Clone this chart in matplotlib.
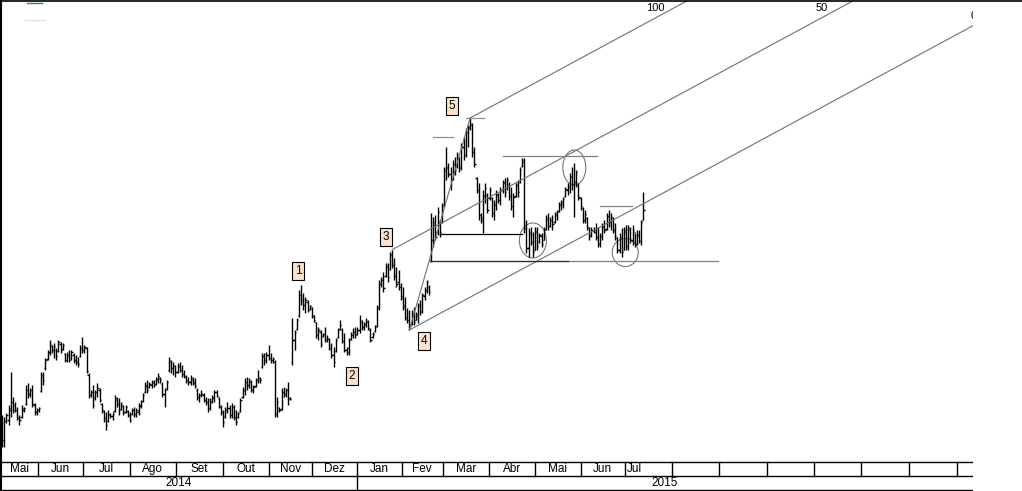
import matplotlib
matplotlib.use("Agg")
import matplotlib.pyplot as plt
from matplotlib.collections import LineCollection
from matplotlib.lines import Line2D
from matplotlib.patches import Ellipse
import numpy as np

# daily OHLC bars, May 2014 - Jul 2015 (arbitrary price units)
highs = [
    8.5, 8.3, 8.7, 9.5, 12.8, 10.3, 9.8, 9.3, 8.5, 9.5, 9.3, 11.5, 11.7, 11.2, 11.5, 9.7, 9.2, 9.3, 12.8, 12.8,
    14.2, 15.0, 16.0, 15.5, 15.7, 15.2, 16.0, 15.8, 15.7, 14.7, 14.8, 15.0, 15.0, 14.7, 14.5, 14.3, 15.5, 16.3, 15.5, 15.3,
    12.7, 11.0, 11.5, 11.0, 11.7, 11.2, 9.7, 9.0, 8.8, 9.0, 8.7, 8.8, 10.5, 10.3, 10.2, 9.8, 9.5, 9.5, 9.0, 8.8,
    9.2, 9.3, 9.2, 9.7, 10.0, 10.7, 11.8, 12.0, 11.8, 12.0, 12.0, 12.3, 12.7, 12.3, 11.8, 11.2, 12.0, 14.3, 14.0, 13.8,
    13.5, 13.7, 13.8, 13.5, 13.0, 12.5, 12.3, 12.5, 12.3, 12.2, 11.2, 10.7, 11.0, 10.7, 10.3, 10.2, 10.2, 10.5, 11.0, 11.0,
    10.3, 9.5, 9.0, 9.3, 9.8, 9.5, 9.7, 9.5, 9.0, 8.8, 10.2, 11.3, 12.2, 12.3, 12.2, 12.0, 11.5, 12.2, 13.0, 12.3,
    14.7, 14.7, 14.8, 15.5, 14.7, 14.3, 14.0, 10.3, 9.3, 11.2, 11.3, 11.2, 11.8, 10.3,
    18.2, 17.0, 18.2, 21.0, 21.5, 20.7, 20.3, 20.0, 19.5, 19.3, 18.5, 17.8, 17.3, 17.0, 16.7, 17.3, 16.5, 16.2, 15.7, 15.3,
    16.2, 17.2, 18.0, 17.2, 16.7, 15.3, 16.2, 16.8, 17.2, 17.3, 17.3, 18.5, 18.0, 17.8, 18.2, 18.0, 17.2, 16.8, 17.5, 19.5,
    22.0, 22.3, 22.8, 23.7, 23.7, 24.8, 25.0, 24.2, 23.3, 23.0,
    21.7, 21.3, 20.3, 19.2, 19.0, 19.0, 19.3, 18.8, 19.7, 20.0, 20.7, 21.3, 22.0, 21.5,
    28.7, 28.3, 28.5, 29.3, 28.0, 29.7, 33.3, 35.3, 33.7, 33.3, 34.0, 34.3, 34.8, 34.3, 35.7, 36.3, 37.2, 37.5, 38.2, 37.7,
    35.3, 32.3, 31.7, 28.7, 31.0, 31.7, 30.7, 31.3, 30.3, 30.0, 31.0, 30.7, 31.3, 32.0, 32.2, 32.3, 31.8, 31.3, 30.7, 31.7,
    32.0, 33.3, 34.2, 34.2, 28.0, 27.2, 27.3, 26.8, 27.3, 27.3, 26.7, 26.7, 27.3, 28.5, 28.7, 28.3, 28.5, 28.8, 29.0, 29.8,
    30.0, 30.3, 31.3, 31.7, 32.7, 33.3, 33.7, 33.0, 31.7, 30.3, 29.3, 29.0, 28.3, 27.3, 27.3, 27.3, 27.7, 27.3, 26.7, 27.7,
    28.0, 28.7, 29.0, 28.7, 28.3, 27.7, 26.3,
    26.7, 27.2, 27.3, 27.5, 27.5, 27.3, 27.5, 26.7, 27.0, 27.0, 28.0, 30.8,
]
lows = [
    5.3, 5.3, 7.7, 7.5, 8.3, 8.7, 8.8, 8.0, 7.5, 8.2, 8.8, 9.5, 10.2, 10.3, 9.3, 8.5, 8.5, 8.8, 10.8, 11.5,
    13.0, 14.0, 14.5, 14.7, 14.2, 14.0, 14.8, 14.7, 15.0, 13.8, 13.8, 13.8, 14.0, 13.7, 13.5, 13.3, 14.3, 14.7, 14.7, 12.7,
    10.2, 10.3, 9.2, 10.0, 10.3, 9.8, 8.7, 7.8, 7.0, 7.8, 8.2, 8.0, 8.8, 9.3, 8.5, 9.0, 8.5, 8.7, 8.3, 7.8,
    8.5, 8.3, 8.3, 8.5, 9.2, 9.8, 10.7, 10.7, 11.2, 11.2, 11.3, 11.5, 11.7, 11.7, 10.3, 9.3, 11.0, 12.8, 12.7, 12.5,
    12.3, 12.7, 12.8, 12.3, 12.2, 11.7, 11.5, 11.5, 11.5, 11.2, 10.0, 9.8, 10.3, 9.8, 9.5, 8.8, 9.0, 9.7, 9.8, 10.3,
    9.2, 8.5, 7.3, 8.2, 8.7, 8.2, 8.2, 8.0, 7.5, 8.2, 8.8, 10.2, 10.5, 11.0, 11.2, 10.8, 10.7, 11.3, 11.7, 11.7,
    13.2, 13.5, 13.7, 14.0, 13.7, 13.7, 8.3, 8.3, 8.8, 9.0, 10.3, 10.3, 9.5, 10.0,
    13.5, 15.0, 17.0, 18.3, 19.5, 19.0, 18.7, 18.8, 19.0, 18.2, 17.8, 16.2, 16.0, 15.3, 16.3, 15.8, 15.8, 15.0, 14.2, 13.3,
    14.8, 16.2, 17.0, 15.7, 14.8, 14.5, 14.5, 16.0, 16.2, 16.2, 16.5, 16.7, 17.0, 17.0, 17.3, 17.0, 15.8, 16.2, 16.8, 17.3,
    19.0, 21.3, 20.8, 22.3, 21.8, 23.0, 23.2, 22.0, 21.3, 21.0,
    20.0, 19.0, 18.0, 17.7, 17.0, 17.5, 17.5, 18.0, 17.7, 18.5, 18.7, 20.0, 20.7, 20.5,
    23.8, 25.3, 26.0, 26.5, 26.3, 27.7, 29.3, 32.0, 32.3, 31.0, 32.0, 32.5, 33.2, 32.8, 33.0, 34.0, 34.3, 35.3, 37.0, 34.3,
    33.3, 30.7, 28.0, 27.7, 26.7, 29.7, 28.7, 30.0, 28.3, 28.0, 29.0, 29.7, 29.5, 30.7, 30.3, 31.0, 30.0, 29.0, 28.3, 30.3,
    30.3, 31.7, 33.3, 26.7, 24.7, 24.3, 25.5, 24.3, 25.0, 25.0, 25.7, 25.3, 26.0, 27.0, 27.0, 27.3, 27.0, 27.7, 28.0, 28.8,
    29.0, 29.2, 30.3, 30.5, 30.7, 31.0, 28.3, 31.3, 30.0, 29.0, 27.7, 27.7, 27.0, 26.0, 26.3, 26.7, 26.0, 25.3, 25.3, 26.0,
    26.7, 27.0, 27.3, 27.0, 26.7, 26.0, 24.7,
    24.7, 24.3, 25.0, 25.0, 25.0, 25.7, 25.5, 25.3, 25.5, 25.7, 25.5, 28.0,
]
opens = [
    8.0, 6.0, 7.9, 8.0, 9.0, 9.8, 9.5, 9.0, 8.2, 8.3, 9.0, 9.6, 11.0, 10.6, 11.0, 9.5, 8.8, 9.0, 10.9, 12.3,
    13.2, 14.1, 14.8, 15.4, 15.0, 15.0, 14.9, 15.6, 15.1, 14.6, 14.0, 14.5, 14.2, 14.5, 14.0, 13.8, 14.4, 15.2, 15.0, 15.2,
    12.5, 10.5, 10.8, 10.2, 10.8, 11.0, 9.6, 8.9, 8.2, 7.9, 8.5, 8.4, 8.9, 10.0, 9.6, 9.1, 9.4, 8.8, 8.9, 8.5,
    8.6, 9.0, 8.6, 8.8, 9.4, 9.9, 10.8, 11.4, 11.3, 11.5, 11.8, 11.6, 12.0, 12.2, 11.6, 10.6, 11.2, 13.0, 13.8, 13.2,
    13.4, 12.8, 13.4, 13.0, 12.6, 12.3, 12.0, 11.8, 12.0, 11.8, 11.0, 10.3, 10.5, 10.5, 10.0, 9.8, 9.2, 9.8, 10.2, 10.8,
    10.2, 9.3, 8.8, 8.3, 9.0, 9.2, 8.5, 9.3, 8.3, 8.3, 8.9, 10.3, 11.0, 11.8, 11.5, 11.8, 11.0, 11.4, 12.0, 12.2,
    13.3, 14.4, 14.0, 14.5, 14.2, 14.0, 13.8, 8.6, 9.2, 9.1, 10.8, 10.6, 11.0, 10.2,
    13.8, 16.0, 17.1, 18.4, 20.2, 20.0, 19.5, 19.8, 19.1, 19.2, 18.4, 17.8, 16.5, 16.8, 16.4, 16.6, 16.0, 16.1, 15.2, 14.5,
    14.9, 16.3, 17.1, 17.0, 15.9, 15.0, 14.8, 16.1, 16.5, 16.8, 16.6, 17.0, 17.8, 17.3, 17.6, 17.8, 17.0, 16.3, 16.9, 17.4,
    19.3, 21.6, 22.0, 22.4, 23.3, 23.1, 24.6, 23.5, 22.4, 21.8,
    21.3, 20.4, 19.5, 18.3, 18.0, 17.6, 18.5, 18.0, 18.4, 19.4, 18.9, 20.4, 21.0, 21.3,
    24.0, 26.0, 27.5, 26.8, 27.8, 27.8, 29.5, 33.0, 33.3, 32.6, 32.2, 33.6, 33.4, 34.2, 33.3, 35.3, 34.5, 36.8, 37.3, 37.5,
    34.8, 32.2, 31.0, 28.5, 28.0, 30.4, 30.5, 30.2, 30.2, 28.7, 29.5, 30.5, 30.0, 31.0, 31.7, 31.2, 31.6, 30.4, 29.4, 30.4,
    31.5, 31.8, 33.4, 33.8, 27.2, 25.2, 26.6, 25.8, 25.0, 26.8, 25.8, 26.4, 26.0, 27.1, 28.0, 27.4, 28.0, 27.8, 28.5, 28.9,
    29.5, 29.6, 30.4, 31.0, 31.2, 32.3, 31.6, 31.8, 31.5, 30.2, 29.2, 28.0, 28.2, 27.2, 26.5, 27.0, 26.8, 26.3, 25.6, 26.4,
    27.3, 27.1, 28.4, 27.8, 28.2, 27.0, 26.2,
    25.0, 26.2, 25.0, 26.8, 25.4, 27.0, 26.0, 26.8, 25.6, 26.5, 25.9, 28.0,
]
closes = [
    6.0, 7.9, 8.5, 9.2, 9.8, 9.0, 9.0, 8.2, 8.0, 9.2, 9.2, 11.0, 10.6, 11.0, 9.6, 8.8, 9.0, 9.2, 12.5, 12.0,
    14.0, 14.8, 15.6, 15.0, 15.4, 14.4, 15.8, 15.0, 15.5, 14.0, 14.5, 14.0, 14.8, 14.0, 13.8, 13.6, 15.2, 15.0, 15.3, 12.9,
    10.5, 10.8, 9.5, 10.8, 11.2, 10.0, 9.0, 8.2, 7.5, 8.6, 8.4, 8.6, 10.2, 9.6, 9.0, 9.6, 8.8, 9.3, 8.5, 8.0,
    9.0, 8.6, 9.0, 9.5, 9.9, 10.5, 11.5, 11.0, 11.6, 11.8, 11.5, 12.1, 12.4, 12.0, 10.6, 11.0, 11.8, 14.0, 13.2, 13.5,
    12.8, 13.4, 13.0, 12.6, 12.4, 12.0, 11.8, 12.2, 11.7, 11.4, 10.3, 10.5, 10.6, 10.0, 9.8, 9.2, 9.9, 10.3, 10.8, 10.4,
    9.4, 8.8, 7.8, 9.0, 9.2, 8.5, 9.3, 8.3, 7.8, 8.7, 10.0, 11.0, 11.8, 11.5, 11.9, 11.0, 11.3, 12.0, 12.2, 12.0,
    14.4, 14.0, 14.5, 14.2, 14.0, 14.1, 8.6, 9.8, 9.0, 10.8, 10.6, 11.0, 10.2, 10.1,
    16.0, 16.8, 18.0, 20.5, 20.0, 19.5, 20.0, 19.0, 19.4, 18.5, 18.0, 16.5, 17.0, 15.6, 16.6, 16.0, 16.2, 15.2, 14.5, 13.8,
    16.0, 17.0, 17.5, 15.9, 15.0, 15.2, 16.0, 16.5, 16.8, 16.5, 17.0, 18.0, 17.3, 17.6, 17.9, 17.2, 16.0, 16.6, 17.3, 19.2,
    21.6, 22.0, 21.2, 23.4, 22.3, 24.5, 23.5, 22.4, 21.6, 21.3,
    20.2, 19.3, 18.2, 18.0, 17.4, 18.7, 17.8, 18.6, 19.5, 18.8, 20.5, 21.0, 21.8, 20.8,
    26.0, 27.8, 26.3, 28.8, 26.8, 29.4, 33.0, 33.2, 32.6, 32.0, 33.6, 33.0, 34.5, 33.2, 35.3, 34.5, 36.8, 37.2, 37.6, 34.8,
    33.6, 31.0, 28.5, 28.2, 30.5, 31.2, 29.0, 31.0, 28.7, 29.6, 30.6, 30.0, 31.0, 31.8, 30.8, 32.0, 30.4, 29.4, 30.3, 31.5,
    30.8, 33.0, 34.0, 27.2, 25.2, 26.8, 25.8, 24.8, 26.9, 25.4, 26.5, 25.6, 27.0, 28.2, 27.4, 28.0, 27.6, 28.6, 28.8, 29.6,
    29.8, 30.1, 31.1, 31.4, 32.4, 31.6, 31.8, 32.8, 30.3, 29.4, 28.0, 28.6, 27.3, 26.4, 27.0, 26.8, 26.3, 25.6, 26.4, 27.4,
    27.0, 28.4, 27.8, 28.3, 27.0, 26.4, 25.0,
    26.3, 24.8, 27.0, 25.4, 27.2, 26.0, 27.0, 25.6, 26.5, 25.9, 27.8, 29.0,
]

# time axis: first bar index of each month (trading days)
month_labels = ["Mai", "Jun", "Jul", "Ago", "Set", "Out", "Nov", "Dez",
                "Jan", "Fev", "Mar", "Abr", "Mai", "Jun", "Jul",
                "", "", "", "", "", "", ""]
month_starts = [-0.5, 16.5, 37.4, 59.1, 80.2, 102.0, 123.2, 142.9,
                163.8, 184.4, 203.4, 224.7, 246.0, 267.0, 287.5,
                309.0, 331.0, 353.2, 374.9, 396.5, 418.7, 440.6]
year_labels = ["2014", "2015"]
year_starts = [-0.5, 163.8]

# Elliott wave pivots (bar index) and their labels
wave_labels = ["1", "2", "3", "4", "5"]
wave_bars = [138, 153, 180, 188, 216]
wave_text = [(136.6, 22.9), (161.5, 12.4), (177.2, 26.3), (194.7, 15.9), (207.7, 39.4)]

# fibonacci channel 0 / 50 / 100 (slope in price per bar)
fib_labels = ["100", "50", "0"]
channel_slope = 0.117

# support / resistance levels: price, from bar, to bar, colour
level_prices = [36.3, 38.2, 34.4, 29.4, 26.6, 23.9, 23.9]
level_from = [198.9, 214.1, 231.2, 276.0, 202.1, 197.5, 197.5]
level_to = [208.1, 222.4, 274.6, 290.7, 240.0, 330.4, 261.0]
level_colors = ["#909090", "#909090", "#808080", "#808080", "black", "#808080", "#303030"]

# circled zones: centre bar, centre price, width (bars), height (price)
circles = [(245.0, 25.95, 12.5, 3.5), (264.1, 33.25, 10.6, 3.5), (287.6, 24.75, 12.0, 2.8)]

W, H = 1022, 491
PX = 2.167  # pixels per bar
XMIN, XMAX = (1 - 2) / PX, (973 - 2) / PX
font = ["Liberation Sans Narrow", "Liberation Sans", "DejaVu Sans"]

fig = plt.figure(figsize=(W / 100, H / 100), dpi=100)
ax = fig.add_axes([1 / W, 30 / H, 972 / W, 460 / H])
ax.set_xlim(XMIN, XMAX)
ax.set_ylim(3.9, 49.9)
ax.set_axis_off()

# OHLC bars
segs = []
for i in range(len(highs)):
    segs.append([(i, lows[i]), (i, highs[i])])
    segs.append([(i - 0.55, opens[i]), (i, opens[i])])
    segs.append([(i, closes[i]), (i + 0.55, closes[i])])
ax.add_collection(LineCollection(segs, colors="black", linewidths=1.0))

# channel lines
i3, i4, i5 = wave_bars[2], wave_bars[3], wave_bars[4]
p0, p100 = lows[i4], highs[i5]
xend = XMAX + 5
line0 = lambda x: p0 + channel_slope * (x - i4)
line100 = lambda x: p100 + channel_slope * (x - i5)
gc = "#707070"
ax.plot([i4, xend], [line0(i4), line0(xend)], color=gc, lw=0.8)
ax.plot([i5, xend], [line100(i5), line100(xend)], color=gc, lw=0.8)
ax.plot([i3, xend], [(line0(i3) + line100(i3)) / 2, (line0(xend) + line100(xend)) / 2],
        color=gc, lw=0.8)
ax.plot([i4, i5], [p0, p100], color=gc, lw=0.8)

fib_pos = [(301.3, 49.2), (378.4, 49.2), (448.6, 48.4)]
for lab, (fx, fy) in zip(fib_labels, fib_pos):
    ax.text(fx, fy, lab, ha="center", va="center", fontsize=8, family=font, clip_on=True)

for pr, a, b, c in zip(level_prices, level_from, level_to, level_colors):
    ax.plot([a, b], [pr, pr], color=c, lw=0.9)

for cx, cy, cw, ch in circles:
    ax.add_patch(Ellipse((cx, cy), cw, ch, fill=False, edgecolor="#777777", lw=0.8))

for lab, (tx, ty) in zip(wave_labels, wave_text):
    ax.text(tx, ty, lab, ha="center", va="center", fontsize=8.5, family=font,
            bbox=dict(boxstyle="square,pad=0.22", fc="#fbe2cc", ec="black", lw=0.8))

# date strip
axd = fig.add_axes([1 / W, 0, 972 / W, 30 / H])
axd.set_xlim(XMIN, XMAX)
axd.set_ylim(0, 30)
axd.set_axis_off()
for yy in (29.5, 15, 1):
    axd.plot([XMIN, XMAX], [yy, yy], color="black", lw=1)
last = len(highs) - 0.5
for k, (lab, s) in enumerate(zip(month_labels, month_starts)):
    if k > 0:
        axd.plot([s, s], [15, 29.5], color="black", lw=1)
    if lab:
        e = min(month_starts[k + 1], last)
        axd.text((s + e) / 2, 22.3, lab, ha="center", va="center", fontsize=8.5, family=font)
for k, (lab, s) in enumerate(zip(year_labels, year_starts)):
    if k > 0:
        axd.plot([s, s], [1, 15], color="black", lw=1)
    e = year_starts[k + 1] if k + 1 < len(year_starts) else XMAX
    axd.text((s + e) / 2, 7.8, lab, ha="center", va="center", fontsize=8.5, family=font)

# frame lines and legend stub
fig.add_artist(Line2D([0.7 / W, 0.7 / W], [0, 1], transform=fig.transFigure, color="black", lw=1.5))
fig.add_artist(Line2D([0, 1], [1 - 0.6 / H, 1 - 0.6 / H], transform=fig.transFigure, color="black", lw=1.2))
fig.add_artist(Line2D([27 / W, 42 / W], [1 - 3 / H, 1 - 3 / H], transform=fig.transFigure, color="#2e8b57", lw=1))
fig.add_artist(Line2D([25 / W, 45 / W], [1 - 19.5 / H, 1 - 19.5 / H], transform=fig.transFigure, color="#d6ead6", lw=1))

fig.savefig("out.png", dpi=100)
